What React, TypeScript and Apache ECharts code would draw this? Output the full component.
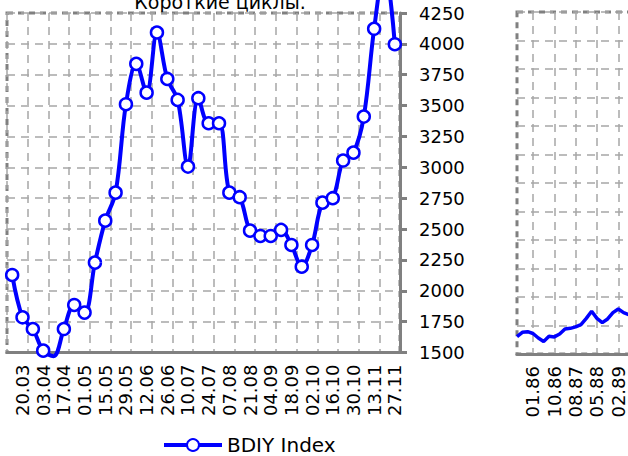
import React, { useEffect, useRef } from 'react';
import * as echarts from 'echarts';

const titleText = 'Короткие циклы.';
const seriesName = 'BDIY Index';

const mainDates = [
  '13.03', '20.03', '27.03', '03.04', '10.04', '17.04', '24.04', '01.05', '08.05', '15.05',
  '22.05', '29.05', '05.06', '12.06', '19.06', '26.06', '03.07', '10.07', '17.07', '24.07',
  '31.07', '07.08', '14.08', '21.08', '28.08', '04.09', '11.09', '18.09', '25.09', '02.10',
  '09.10', '16.10', '23.10', '30.10', '06.11', '13.11', '20.11', '27.11',
];
const mainValues = [
  2128, 1785, 1690, 1515, 1470, 1690, 1885, 1823, 2228, 2568,
  2795, 3511, 3838, 3605, 4092, 3716, 3546, 3006, 3560, 3357,
  3357, 2795, 2758, 2487, 2444, 2444, 2493, 2371, 2195, 2371,
  2714, 2750, 3055, 3119, 3411, 4122, 4620, 3997,
];
const mainYMin = 1500;
const mainYMax = 4250;
const mainYStep = 250;

const longDates = [
  '', '', '', '01.86', '', '', '', '10.86', '', '', '', '08.87',
  '', '', '', '05.88', '', '', '', '02.89', '', '', '', '',
];
const longValues = [
  607, 760, 782, 720, 560, 440, 620, 600, 700, 880, 900, 950,
  1030, 1250, 1500, 1250, 1100, 1230, 1450, 1580, 1450, 1380, 1500, 1560,
];
const longYMin = 0;
const longYMax = 12000;
const longYStep = 1000;

export default function App() {
  const ref = useRef<HTMLDivElement>(null);
  useEffect(() => {
    const chart = echarts.init(ref.current as HTMLDivElement, null, { renderer: 'svg' });
    const font = 'DejaVu Sans';
    const borderCol = '#808080';
    const gridCol = '#a6a6a6';
    const splitStyle = { color: gridCol, width: 1.5, type: [8, 6] };
    const gridBase = {
      show: true,
      borderColor: borderCol,
      borderWidth: 3,
      borderType: [6, 5],
      backgroundColor: 'transparent',
      containLabel: false,
      outerBoundsMode: 'none',
    };
    chart.setOption({
      animation: false,
      backgroundColor: '#ffffff',
      graphic: [
        {
          type: 'text',
          x: 220,
          y: 1.5,
          style: {
            text: titleText,
            fontFamily: font,
            fontSize: 19,
            fill: '#000000',
            align: 'center',
            verticalAlign: 'middle',
            textAlign: 'center',
            textVerticalAlign: 'middle',
          },
        },
      ],
      legend: {
        data: [seriesName],
        left: 157,
        top: 430,
        itemWidth: 58,
        itemHeight: 15,
        itemGap: 10,
        lineStyle: { width: 4, color: '#0000ff' },
        textStyle: { fontFamily: font, fontSize: 20, color: '#000000' },
      },
      grid: [
        { ...gridBase, left: 7, top: 13, width: 393, height: 339.5 },
        { ...gridBase, left: 517, top: 12, width: 122.6, height: 342 },
      ],
      xAxis: [
        {
          gridIndex: 0,
          type: 'category',
          data: mainDates,
          boundaryGap: true,
          axisLine: { show: true, lineStyle: { color: borderCol, width: 3 } },
          axisTick: { show: false },
          axisLabel: {
            interval: (i: number) => i % 2 === 1,
            rotate: 90,
            margin: 12,
            fontFamily: font,
            fontSize: 18,
            color: '#000000',
          },
          splitLine: { show: true, interval: (i: number) => i % 2 === 0, lineStyle: splitStyle },
        },
        {
          gridIndex: 1,
          type: 'category',
          data: longDates,
          boundaryGap: false,
          axisLine: { show: true, lineStyle: { color: borderCol, width: 3 } },
          axisTick: { show: false },
          axisLabel: {
            interval: (i: number) => i % 4 === 3,
            rotate: 90,
            margin: 12,
            fontFamily: font,
            fontSize: 18,
            color: '#000000',
          },
          splitLine: { show: true, interval: (i: number) => i % 4 === 3, lineStyle: splitStyle },
        },
      ],
      yAxis: [
        {
          gridIndex: 0,
          type: 'value',
          position: 'right',
          min: mainYMin,
          max: mainYMax,
          interval: mainYStep,
          axisLine: { show: true, lineStyle: { color: borderCol, width: 3 } },
          axisTick: { show: true, inside: false, length: 7, lineStyle: { color: borderCol, width: 3 } },
          axisLabel: {
            margin: 19,
            fontFamily: font,
            fontSize: 18,
            color: '#000000',
            formatter: (v: number) => String(v),
          },
          splitLine: { show: true, lineStyle: splitStyle },
        },
        {
          gridIndex: 1,
          type: 'value',
          position: 'right',
          min: longYMin,
          max: longYMax,
          interval: longYStep,
          axisLine: { show: false },
          axisTick: { show: false },
          axisLabel: { show: false },
          splitLine: { show: true, lineStyle: splitStyle },
        },
      ],
      series: [
        {
          name: seriesName,
          type: 'line',
          xAxisIndex: 0,
          yAxisIndex: 0,
          data: mainValues.map((v) => ({
            value: v,
            symbol: v < mainYMin || v > mainYMax ? 'none' : 'circle',
          })),
          smooth: 0.35,
          clip: false,
          symbol: 'circle',
          symbolSize: 12,
          showSymbol: true,
          showAllSymbol: true,
          lineStyle: { color: '#0000ff', width: 4 },
          itemStyle: { color: '#ffffff', borderColor: '#0000ff', borderWidth: 2.5 },
          z: 5,
        },
        {
          name: 'BDIY long',
          type: 'line',
          xAxisIndex: 1,
          yAxisIndex: 1,
          data: longValues,
          symbol: 'none',
          showSymbol: false,
          lineStyle: { color: '#0000ff', width: 3.5 },
          itemStyle: { color: '#0000ff' },
          z: 5,
        },
      ],
    });
    return () => chart.dispose();
  }, []);
  return (
    <div
      ref={ref}
      style={{ position: 'absolute', left: 0, top: 0, width: 628, height: 456 }}
    />
  );
}
